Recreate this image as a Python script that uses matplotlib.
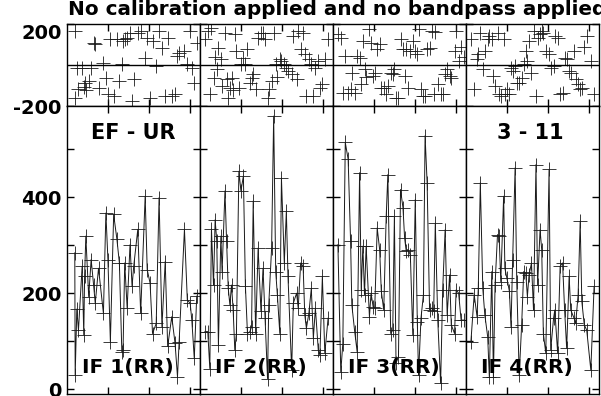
import matplotlib
matplotlib.use("Agg")
import matplotlib.pyplot as plt

plt.rcParams['font.family'] = ['DejaVu Sans']
plt.rcParams['font.weight'] = 'bold'

title = "No calibration applied and no bandpass applied"
baseline = "EF - UR"
source = "3 - 11"
if_labels = ["IF 1(RR)", "IF 2(RR)", "IF 3(RR)", "IF 4(RR)"]

# time in minutes, amplitude and phase (deg) for each IF
t1 = [1.9, 2.0, 2.4, 2.8, 3.7, 4.1, 4.3, 4.6, 5.3, 5.9, 6.5, 6.9, 7.7, 8.9, 9.5, 10.0,
      10.6, 11.4, 12.2, 12.8, 13.4, 13.7, 14.1, 14.7, 15.4, 15.9, 16.3, 17.3, 18.0, 19.1,
      19.6, 20.3, 20.9, 21.8, 22.5, 23.2, 24.0, 24.6, 25.6, 26.4, 27.0, 27.4, 28.7, 29.4,
      30.1, 30.5, 31.1, 31.7]
amp1 = [284, 29, 167, 123, 256, 113, 235, 319, 193, 270, 217, 179, 252, 158, 367, 270,
        99, 364, 312, 263, 78, 82, 263, 169, 301, 214, 256, 333, 158, 402, 249, 221, 116,
        137, 399, 130, 266, 89, 151, 96, 26, 99, 333, 186, 179, 144, 64, 194]
ph1 = [166, -159, -13, -119, -13, -106, -86, -120, -78, -13, 109, 101, -111, 11, -62, -143,
       125, -150, 125, -78, 3, 117, 125, 133, 158, -176, -70, 158, 166, 36, 133, -160, 117,
       -5, 166, 85, -151, 133, -151, -143, 44, 60, 68, 3, 166, -13, -86, 109]

t2 = [1.2, 1.9, 2.4, 2.8, 3.3, 3.7, 4.1, 4.5, 5.1, 5.4, 6.1, 6.5, 6.9, 7.3, 7.7, 8.1, 8.5,
      8.9, 9.5, 10.0, 10.6, 11.1, 11.6, 12.2, 12.6, 13.0, 13.6, 14.2, 14.9, 15.4, 15.9,
      16.5, 16.8, 17.5, 18.0, 18.5, 18.9, 19.5, 19.9, 20.6, 21.1, 21.5, 22.4, 22.8, 23.6,
      24.0, 24.6, 25.2, 25.6, 26.0, 26.6, 27.2, 27.7, 28.2, 28.9, 29.3, 29.9, 30.5, 31.3]
amp2 = [120, 120, 43, 334, 217, 353, 308, 92, 319, 245, 413, 308, 210, 176, 217, 165, 82,
        116, 454, 413, 444, 214, 116, 120, 130, 392, 116, 294, 162, 252, 148, 22, 176, 294,
        569, 245, 197, 116, 440, 263, 371, 235, 40, 179, 200, 169, 263, 256, 155, 127, 158,
        210, 106, 169, 82, 71, 235, 75, 148]
ph2 = [125, 166, -140, 182, -62, 40, -20, 85, 28, -100, 158, -70, -159, -111, -62, -120,
       150, 68, -111, 3, 36, 3, 76, -90, -62, -46, -119, 130, 158, 158, 125, -159, -119,
       -80, 158, 3, -60, 28, 20, 3, -13, -29, -46, 140, -70, 166, 76, 158, 52, -150, 28, 3,
       -151, -13, 20, -111, -94, 28, 125]

t3 = [1.2, 1.9, 2.4, 3.0, 3.7, 4.3, 4.6, 5.3, 5.9, 6.5, 6.9, 7.3, 7.7, 8.1, 8.9, 9.3, 9.8,
      10.2, 10.8, 11.4, 11.8, 12.4, 13.0, 13.4, 14.1, 14.6, 15.0, 15.4, 16.0, 16.5, 17.1,
      17.5, 17.9, 18.3, 18.9, 19.5, 20.1, 20.6, 20.9, 21.5, 22.1, 22.5, 23.0, 23.6, 24.1,
      24.6, 25.0, 25.6, 26.3, 26.8, 27.4, 27.9, 28.5, 28.9, 29.7, 30.1, 30.7, 31.3, 32.1]
amp3 = [301, 36, 95, 514, 479, 308, 176, 120, 78, 451, 207, 298, 197, 298, 151, 200, 172,
        169, 336, 291, 204, 165, 360, 447, 116, 123, 360, 54, 68, 416, 378, 315, 287, 291,
        280, 113, 395, 141, 29, 148, 197, 528, 430, 165, 169, 162, 346, 144, 12, 207, 332,
        155, 238, 134, 116, 207, 200, 144, 144]
ph3 = [150, 133, -135, 44, -135, -119, -37, -135, 44, 36, -94, 117, -20, -60, 174, 109, -54,
       -37, 76, 101, -111, -111, -143, -102, -37, -46, -21, -159, -159, 125, 76, -54, 76,
       -111, 68, 117, 68, 52, 174, -119, -151, -151, 76, 85, 166, -143, 160, -94, -143,
       -143, -46, -21, -54, -62, 68, 166, 20, 90, 40]

t4 = [1.2, 2.0, 2.7, 3.0, 3.5, 4.1, 4.6, 5.3, 5.7, 6.3, 6.7, 7.1, 7.7, 8.1, 8.5, 9.2, 9.5,
      10.0, 10.6, 11.0, 11.4, 12.0, 12.4, 13.0, 13.6, 14.1, 14.6, 15.0, 15.4, 16.0, 16.5,
      17.1, 17.5, 18.1, 18.5, 18.9, 19.5, 20.3, 20.7, 21.4, 21.7, 22.4, 23.0, 23.6, 24.1,
      24.6, 25.2, 25.6, 26.4, 26.8, 27.4, 27.9, 28.3, 28.9, 29.5, 30.5, 31.3]
amp4 = [99, 197, 151, 210, 430, 210, 155, 109, 26, 245, 26, 217, 322, 319, 224, 402, 252,
        231, 204, 130, 270, 461, 224, 29, 134, 245, 242, 193, 238, 263, 165, 468, 217, 332,
        291, 116, 75, 458, 82, 148, 165, 75, 256, 263, 165, 85, 235, 165, 148, 137, 197, 350,
        183, 134, 123, 40, 214]
ph4 = [125, -119, 28, 52, 158, -20, 68, 125, 140, 125, -54, -100, 158, -143, -151, 125,
       -143, -119, -143, -13, -30, -5, -86, -86, -62, 3, 68, 20, 117, -40, 166, -151, 133,
       150, 166, 158, 68, 52, -13, -5, 142, 133, -143, -135, 36, 28, -29, -40, 68, -70, -94,
       -119, -110, 90, 142, 20, -143]

times = [t1, t2, t3, t4]
amps = [amp1, amp2, amp3, amp4]
phases = [ph1, ph2, ph3, ph4]

W, H = 601, 396
fig = plt.figure(figsize=(W / 100, H / 100), dpi=100)

col_w = 133
for i in range(4):
    left = (67 + col_w * i) / W
    axp = fig.add_axes([left, (H - 106) / H, col_w / W, 82 / H])
    axa = fig.add_axes([left, 2 / H, col_w / W, 288 / H])

    axp.plot(times[i], phases[i], '+', color='#1a1a1a', ms=9.5, mew=0.6)
    axp.axhline(0, color='k', lw=1)
    axa.plot(times[i], amps[i], '-+', color='#1a1a1a', lw=0.7, ms=9.5, mew=0.6)

    for ax in (axp, axa):
        ax.set_xlim(0, 32.5)
        ax.set_xticks([10, 20, 30])
        ax.set_xticklabels([])
        ax.tick_params(direction='in', top=True, bottom=True, left=True, right=True,
                       length=5, width=1, labelsize=14, pad=4)
        for s in ax.spines.values():
            s.set_linewidth(1)

    axp.set_ylim(-200, 200)
    axp.set_yticks([-200, 200])
    axa.set_ylim(-10, 590)
    axa.set_yticks([0, 100, 200, 300, 400, 500])
    if i == 0:
        axp.set_yticklabels(['-200', '200'])
        axp.yaxis.get_major_ticks()[1].label1.set_verticalalignment('top')
        axa.set_yticklabels(['0', '', '200', '', '400', ''])
    else:
        axp.set_yticklabels([])
        axa.set_yticklabels([])

    axa.text(0.11, 0.073, if_labels[i], transform=axa.transAxes, ha='left',
             va='baseline', fontsize=14.5, fontweight='bold')
    if i == 0:
        axa.text(0.5, 0.885, baseline, transform=axa.transAxes, ha='center',
                 va='baseline', fontsize=15, fontweight='bold')
    if i == 3:
        axa.text(0.48, 0.885, source, transform=axa.transAxes, ha='center',
                 va='baseline', fontsize=15, fontweight='bold')

fig.text(68 / W, 1 - 15 / H, title, ha='left', va='baseline', fontsize=14.4,
         fontweight='bold')

fig.savefig("out.png", dpi=100)
